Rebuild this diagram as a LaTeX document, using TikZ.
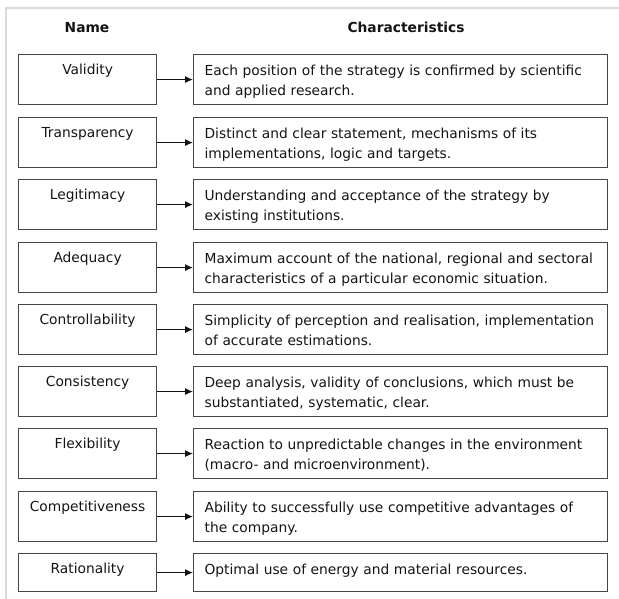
\documentclass[tikz,border=0pt]{standalone}
\usepackage{fontspec}
\setmainfont{DejaVu Sans}
\usetikzlibrary{arrows.meta}
\definecolor{frameGray}{RGB}{218,218,218}
\definecolor{boxGray}{RGB}{70,70,70}
\definecolor{textBlack}{RGB}{20,20,20}

\begin{document}
\begin{tikzpicture}[x=1pt, y=-1pt, >={Latex[length=8pt,width=7pt]}, text=textBlack, draw=boxGray,
		font=\fontsize{13.8}{20}\selectfont]
		\useasboundingbox (0,0) rectangle (619,599);
		% Frame
		\draw[frameGray, line width=2.5pt] (5,8) -- (619,8);
		\draw[frameGray, line width=2.5pt] (6,8) -- (6,599);
		
		% Column names
		\node (nameHead) at (87,33) [anchor=base] {\textbf{Name}};
		\node (charHead) at (406,33) [anchor=base] {\textbf{Characteristics}};
		
		% Names
		\begin{scope}[every node/.style={draw, line width=1.2pt, anchor=north west, text width=116pt,
				inner xsep=11pt, inner ysep=10pt, align=center, text height=10pt, text depth=20pt}]
			\node (N1) at (18,54) {Validity};
			\node (N2) at (18,117) {Transparency};
			\node (N3) at (18,179) {Legitimacy};
			\node (N4) at (18,242) {Adequacy};
			\node (N5) at (18,304) {Controllability};
			\node (N6) at (18,366) {Consistency};
			\node (N7) at (18,428) {Flexibility};
			\node (N8) at (18,491) {Competitiveness};
			\node (N9) at (18,553) [text depth=8pt] {Rationality};
		\end{scope}
		
		% Characteristics
		\begin{scope}[every node/.style={draw, line width=1.2pt, anchor=north west, text width=392pt,
				inner xsep=11pt, inner ysep=10pt, align=left, text height=11pt, text depth=19pt}]
			\node (C1) at (193,54) {Each position of the strategy is confirmed by scientific\\and applied research.};
			\node (C2) at (193,117) {Distinct and clear statement, mechanisms of its\\implementations, logic and targets.};
			\node (C3) at (193,179) {Understanding and acceptance of the strategy by\\existing institutions.};
			\node (C4) at (193,242) {Maximum account of the national, regional and sectoral\\characteristics of a particular economic situation.};
			\node (C5) at (193,304) {Simplicity of perception and realisation, implementation\\of accurate estimations.};
			\node (C6) at (193,366) {Deep analysis, validity of conclusions, which must be\\substantiated, systematic, clear.};
			\node (C7) at (193,428) {Reaction to unpredictable changes in the environment\\(macro- and microenvironment).};
			\node (C8) at (193,491) {Ability to successfully use competitive advantages of\\the company.};
			\node (C9) at (193,553) [text depth=7pt] {Optimal use of energy and material resources.};
		\end{scope}
		
		% Arrows
		\begin{scope}[every edge/.style={draw=textBlack, line width=1pt}]
			\path [->] (N1) edge (C1);
			\path [->] (N2) edge (C2);
			\path [->] (N3) edge (C3);
			\path [->] (N4) edge (C4);
			\path [->] (N5) edge (C5);
			\path [->] (N6) edge (C6);
			\path [->] (N7) edge (C7);
			\path [->] (N8) edge (C8);
			\path [->] (N9) edge (C9);
		\end{scope}
	\end{tikzpicture}
\end{document}
